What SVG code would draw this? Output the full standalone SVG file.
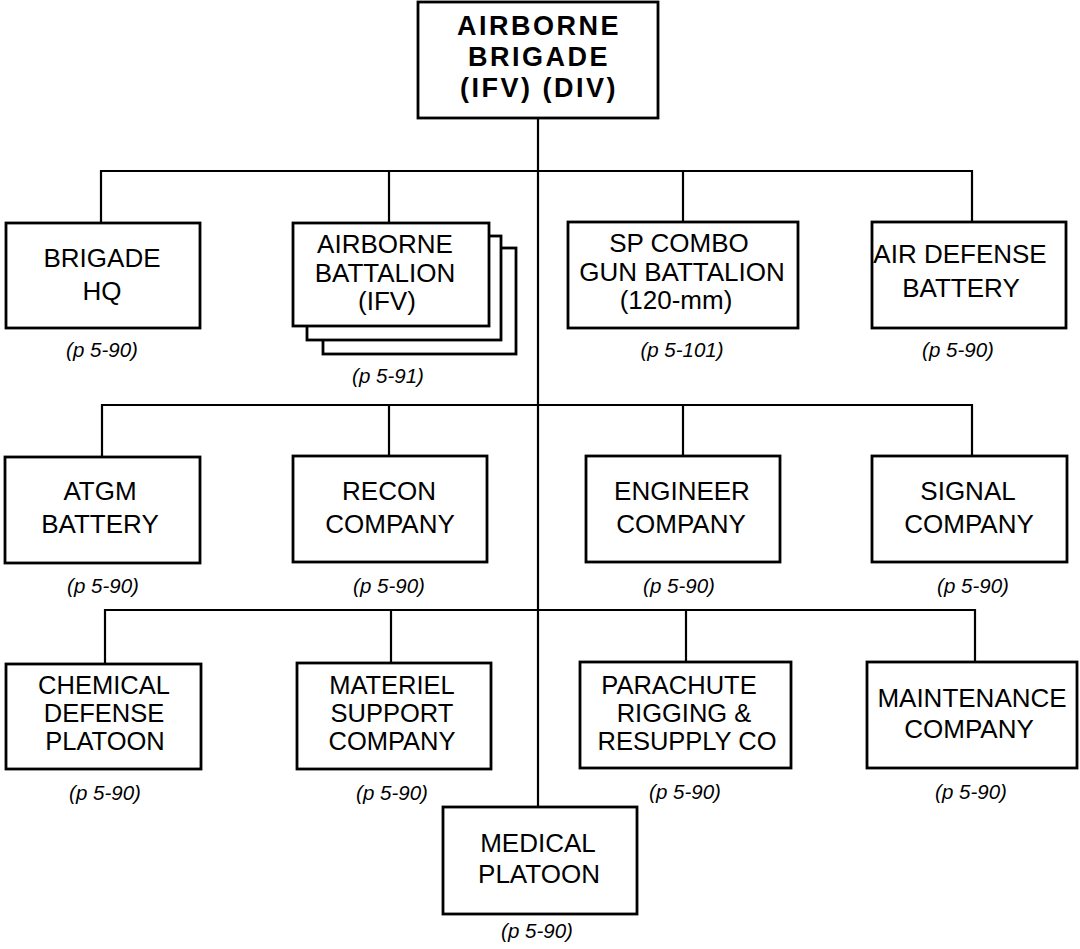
<svg xmlns="http://www.w3.org/2000/svg" width="1080" height="949" viewBox="0 0 1080 949">
<style>
.box{fill:#fff;stroke:#000;stroke-width:2.8}
.con{fill:none;stroke:#000;stroke-width:2.2}
.t{font-family:"Liberation Sans",Arial,sans-serif;font-size:26px;text-anchor:middle;fill:#000}
.t3{font-size:25.5px}
.tb{font-family:"Liberation Sans",Arial,sans-serif;font-size:27px;font-weight:bold;letter-spacing:2.5px;text-anchor:middle;fill:#000}
.c{font-family:"Liberation Sans",Arial,sans-serif;font-size:20.5px;font-style:italic;text-anchor:middle;fill:#000}
</style>
<rect width="1080" height="949" fill="#fff"/>
<g id="connectors">
<line class="con" x1="538" y1="118" x2="538" y2="807"/>
<path class="con" d="M101,223 V171 H972 V222"/>
<line class="con" x1="389" y1="171" x2="389" y2="223"/>
<line class="con" x1="683" y1="171" x2="683" y2="222"/>
<path class="con" d="M102,457 V405 H972 V456"/>
<line class="con" x1="389" y1="405" x2="389" y2="456"/>
<line class="con" x1="683" y1="405" x2="683" y2="456"/>
<path class="con" d="M105,664 V610 H975 V663"/>
<line class="con" x1="391" y1="610" x2="391" y2="663"/>
<line class="con" x1="686" y1="610" x2="686" y2="662"/>
</g>
<g id="airborne-brigade">
<rect class="box" x="418" y="2" width="240" height="116"/>
<text class="tb" x="539" y="35">AIRBORNE</text>
<text class="tb" x="539" y="66">BRIGADE</text>
<text class="tb" x="539" y="97">(IFV) (DIV)</text>
</g>
<g id="brigade-hq">
<rect class="box" x="6" y="223" width="194" height="105"/>
<text class="t" x="102" y="267">BRIGADE</text>
<text class="t" x="102" y="300">HQ</text>
<text class="c" x="102" y="357">(p 5-90)</text>
</g>
<g id="airborne-battalion">
<rect class="box" x="323" y="248" width="193" height="106"/>
<rect class="box" x="307" y="236" width="194" height="104"/>
<rect class="box" x="293" y="223" width="196" height="103"/>
<text class="t" x="385" y="253">AIRBORNE</text>
<text class="t" x="385" y="282">BATTALION</text>
<text class="t" x="387" y="310">(IFV)</text>
<text class="c" x="388" y="383">(p 5-91)</text>
</g>
<g id="sp-combo">
<rect class="box" x="568" y="222" width="230" height="106"/>
<text class="t" x="679" y="252">SP COMBO</text>
<text class="t" x="682" y="281">GUN BATTALION</text>
<text class="t" x="676" y="309">(120-mm)</text>
<text class="c" x="682" y="357">(p 5-101)</text>
</g>
<g id="air-defense">
<rect class="box" x="872" y="222" width="194" height="106"/>
<text class="t" x="960" y="263">AIR DEFENSE</text>
<text class="t" x="961" y="297">BATTERY</text>
<text class="c" x="958" y="357">(p 5-90)</text>
</g>
<g id="atgm">
<rect class="box" x="5" y="457" width="195" height="106"/>
<text class="t" x="100" y="500">ATGM</text>
<text class="t" x="100" y="533">BATTERY</text>
<text class="c" x="103" y="593">(p 5-90)</text>
</g>
<g id="recon">
<rect class="box" x="293" y="456" width="194" height="106"/>
<text class="t" x="389" y="500">RECON</text>
<text class="t" x="390" y="533">COMPANY</text>
<text class="c" x="389" y="593">(p 5-90)</text>
</g>
<g id="engineer">
<rect class="box" x="586" y="456" width="194" height="106"/>
<text class="t" x="682" y="500">ENGINEER</text>
<text class="t" x="681" y="533">COMPANY</text>
<text class="c" x="679" y="593">(p 5-90)</text>
</g>
<g id="signal">
<rect class="box" x="872" y="456" width="195" height="106"/>
<text class="t" x="968" y="500">SIGNAL</text>
<text class="t" x="969" y="533">COMPANY</text>
<text class="c" x="973" y="593">(p 5-90)</text>
</g>
<g id="chemical">
<rect class="box" x="6" y="664" width="195" height="105"/>
<text class="t t3" x="104" y="694">CHEMICAL</text>
<text class="t t3" x="104" y="722">DEFENSE</text>
<text class="t t3" x="105" y="750">PLATOON</text>
<text class="c" x="105" y="800">(p 5-90)</text>
</g>
<g id="materiel">
<rect class="box" x="297" y="663" width="194" height="106"/>
<text class="t t3" x="392" y="694">MATERIEL</text>
<text class="t t3" x="392" y="722">SUPPORT</text>
<text class="t t3" x="392" y="750">COMPANY</text>
<text class="c" x="392" y="800">(p 5-90)</text>
</g>
<g id="parachute">
<rect class="box" x="580" y="662" width="211" height="106"/>
<text class="t t3" x="679" y="694">PARACHUTE</text>
<text class="t t3" x="684" y="722">RIGGING &amp;</text>
<text class="t t3" x="687" y="750">RESUPPLY CO</text>
<text class="c" x="685" y="799">(p 5-90)</text>
</g>
<g id="maintenance">
<rect class="box" x="867" y="662" width="210" height="106"/>
<text class="t" x="972" y="707">MAINTENANCE</text>
<text class="t" x="969" y="738">COMPANY</text>
<text class="c" x="971" y="799">(p 5-90)</text>
</g>
<g id="medical">
<rect class="box" x="443" y="807" width="194" height="107"/>
<text class="t" x="538" y="852">MEDICAL</text>
<text class="t" x="539" y="883">PLATOON</text>
<text class="c" x="537" y="938">(p 5-90)</text>
</g>
</svg>
